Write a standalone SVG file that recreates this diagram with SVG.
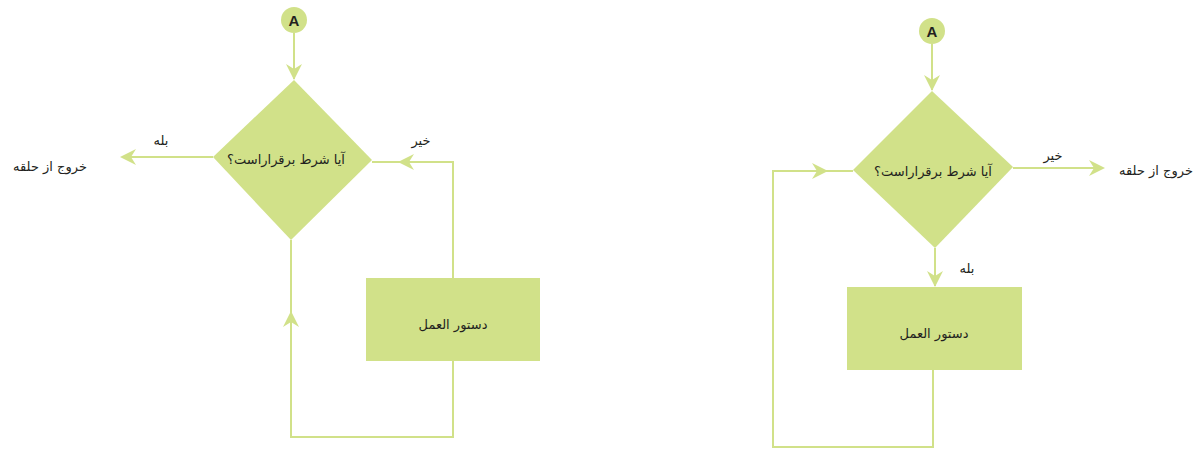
<svg xmlns="http://www.w3.org/2000/svg" width="1203" height="451" viewBox="0 0 1203 451">
<defs>
<style>
.shape{fill:#d1e189;stroke:none}
.line{fill:none;stroke:#d1e189;stroke-width:2}
.head{fill:#d1e189;stroke:none}
.t{font-family:"DejaVu Sans","Noto Sans",sans-serif;font-size:13px;fill:#231f20;text-anchor:middle}
.a{font-family:"Liberation Sans",Arial,sans-serif;font-size:15px;font-weight:bold;fill:#231f20;text-anchor:middle}
</style>
<path id="ah" d="M0,0 L-16,-8 L-11,0 L-16,8 Z"/>
</defs>
<rect width="1203" height="451" fill="#ffffff"/>

<g id="connectors">
  <!-- left diagram -->
  <path class="line" d="M294,33 L294,79"/>
  <use href="#ah" class="head" transform="translate(294,80) rotate(90)"/>
  <path class="line" d="M213,157 L122,157"/>
  <use href="#ah" class="head" transform="translate(120,157) rotate(180)"/>
  <path class="line" d="M453,278 L453,162 L372,162"/>
  <use href="#ah" class="head" transform="translate(398,162) rotate(180)"/>
  <path class="line" d="M453,361 L453,437 L291,437 L291,240"/>
  <use href="#ah" class="head" transform="translate(291,311) rotate(-90)"/>
  <!-- right diagram -->
  <path class="line" d="M932,44 L932,90"/>
  <use href="#ah" class="head" transform="translate(932,91) rotate(90)"/>
  <path class="line" d="M1013,168 L1103,168"/>
  <use href="#ah" class="head" transform="translate(1105,168) rotate(0)"/>
  <path class="line" d="M935,248 L935,286"/>
  <use href="#ah" class="head" transform="translate(935,287) rotate(90)"/>
  <path class="line" d="M933,370 L933,447 L773,447 L773,171 L853,171"/>
  <use href="#ah" class="head" transform="translate(828,171) rotate(0)"/>
</g>

<g id="left-start">
  <circle class="shape" cx="294" cy="20" r="13"/>
  <text class="a" x="294" y="25.5">A</text>
</g>
<g id="left-decision">
  <polygon class="shape" points="294,80 372,160 291,240 213,157"/>
  <text class="t" x="286" y="164">آیا شرط برقراراست؟</text>
</g>
<g id="left-action">
  <rect class="shape" x="366" y="278" width="174" height="83"/>
  <text class="t" x="453" y="329">دستور العمل</text>
</g>
<g id="left-exit">
  <text class="t" x="50" y="171">خروج از حلقه</text>
</g>
<g id="left-labels">
  <text class="t" x="161" y="145">بله</text>
  <text class="t" x="421" y="145">خیر</text>
</g>

<g id="right-start">
  <circle class="shape" cx="932" cy="31" r="13"/>
  <text class="a" x="932" y="36.5">A</text>
</g>
<g id="right-decision">
  <polygon class="shape" points="932,91 1013,167 935,248 853,170"/>
  <text class="t" x="933" y="176">آیا شرط برقراراست؟</text>
</g>
<g id="right-action">
  <rect class="shape" x="847" y="287" width="175" height="83"/>
  <text class="t" x="934" y="338">دستور العمل</text>
</g>
<g id="right-exit">
  <text class="t" x="1156" y="175">خروج از حلقه</text>
</g>
<g id="right-labels">
  <text class="t" x="1053" y="160">خیر</text>
  <text class="t" x="967" y="273">بله</text>
</g>
</svg>
